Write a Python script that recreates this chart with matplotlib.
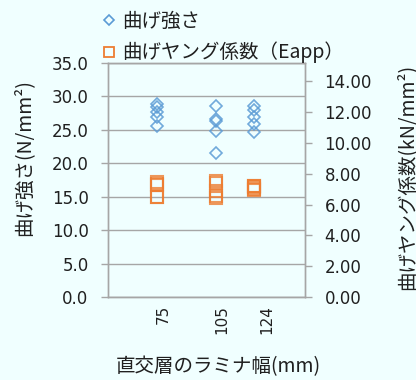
import matplotlib
matplotlib.use("Agg")
import matplotlib.pyplot as plt
from matplotlib.lines import Line2D
from matplotlib.ticker import FormatStrFormatter
from matplotlib.transforms import ScaledTranslation

# Laminae width of the cross layer (mm)
widths = [75, 105, 124]

# Bending strength (N/mm^2), five specimens per width
strength_75 = [28.9, 28.4, 27.7, 26.9, 25.6]
strength_105 = [28.5, 26.6, 26.3, 24.9, 21.6]
strength_124 = [28.6, 27.9, 26.9, 25.9, 24.7]

# Bending Young's modulus Eapp (kN/mm^2)
eapp_75 = [7.48, 7.36, 7.30, 6.52, 6.48]
eapp_105 = [7.53, 7.40, 6.88, 6.56, 6.43]
eapp_124 = [7.23, 7.18, 7.12, 7.00, 6.95]

strength_groups = [strength_75, strength_105, strength_124]
eapp_groups = [eapp_75, eapp_105, eapp_124]

left_ticks = [0, 5, 10, 15, 20, 25, 30, 35]
right_ticks = [0, 2, 4, 6, 8, 10, 12, 14]

label_strength = "曲げ強さ"
label_eapp = "曲げヤング係数（Eapp）"
xlabel = "直交層のラミナ幅(mm)"
ylabel_left = "曲げ強さ(N/mm²)"
ylabel_right = "曲げヤング係数(kN/mm²)"

BLUE = "#5B9BD5"
ORANGE = "#ED7D31"
GRID = "#A6A6A6"
BG = "#F0FFFF"
TEXT = "#202020"
CJK = ["Noto Sans CJK JP", "DejaVu Sans"]

plt.rcParams["font.family"] = ["DejaVu Sans"]

fig = plt.figure(figsize=(4.16, 3.80), dpi=100, facecolor=BG)
ax = fig.add_axes([108 / 416, 1 - 297 / 380, 197 / 416, 234 / 380])
ax.set_facecolor(BG)
ax2 = ax.twinx()

for w, vals in zip(widths, strength_groups):
    ax.plot([w] * len(vals), vals, linestyle="none", marker="D", ms=6.2,
            mfc="none", mec=BLUE, mew=1.2, alpha=0.85, zorder=3)

for w, vals in zip(widths, eapp_groups):
    ax2.plot([w] * len(vals), vals, linestyle="none", marker="s", ms=9.0,
             mfc="none", mec=ORANGE, mew=1.5, alpha=0.8, zorder=3)

ax.set_xlim(50, 150)
ax.set_ylim(0, 35)
ax2.set_ylim(0, 15.2)

ax.set_yticks(left_ticks)
ax.yaxis.set_major_formatter(FormatStrFormatter("%.1f"))
ax2.set_yticks(right_ticks)
ax2.yaxis.set_major_formatter(FormatStrFormatter("%.2f"))

ax.set_xticks(widths)
ax.set_xticklabels([str(w) for w in widths], rotation=90)

ax.grid(axis="y", color=GRID, linewidth=1.0)
ax.set_axisbelow(True)

for a in (ax, ax2):
    for side, sp in a.spines.items():
        sp.set_color(GRID)
        sp.set_linewidth(1.0)

ax.tick_params(axis="y", direction="out", length=5, width=1.0, color=GRID,
               pad=9, labelsize=12, labelcolor=TEXT)
ax2.tick_params(axis="y", direction="out", length=5, width=1.0, color=GRID,
                pad=9, labelsize=12, labelcolor=TEXT)
ax.tick_params(axis="x", length=0, pad=5.5, labelsize=11, labelcolor=TEXT)

# category labels sit a little to the right of their marker columns
label_shift_px = [6, 5, 13]
for lab, dx in zip(ax.get_xticklabels(), label_shift_px):
    lab.set_transform(lab.get_transform()
                      + ScaledTranslation(dx / 100, 0, fig.dpi_scale_trans))

fig.text(218 / 416, 1 - 367 / 380, xlabel, ha="center", va="center",
         fontsize=14, family=CJK, color=TEXT)
fig.text(24 / 416, 1 - 158 / 380, ylabel_left, ha="center", va="center",
         rotation=90, fontsize=14, family=CJK, color=TEXT)
fig.text(407 / 416, 1 - 177 / 380, ylabel_right, ha="center", va="center",
         rotation=90, fontsize=14, family=CJK, color=TEXT)

handles = [
    Line2D([], [], linestyle="none", marker="D", ms=5.2, mfc="none",
           mec=BLUE, mew=1.2),
    Line2D([], [], linestyle="none", marker="s", ms=7.0, mfc="none",
           mec=ORANGE, mew=1.3),
]
fig.legend(handles, [label_strength, label_eapp], loc="upper left",
           bbox_to_anchor=(102 / 416, 1 - 11 / 380), frameon=False,
           prop={"family": CJK, "size": 14}, handlelength=0.7,
           handletextpad=0.35, labelspacing=0.5, borderpad=0,
           borderaxespad=0, labelcolor=TEXT)

fig.savefig("out.png", dpi=100, facecolor=BG)
